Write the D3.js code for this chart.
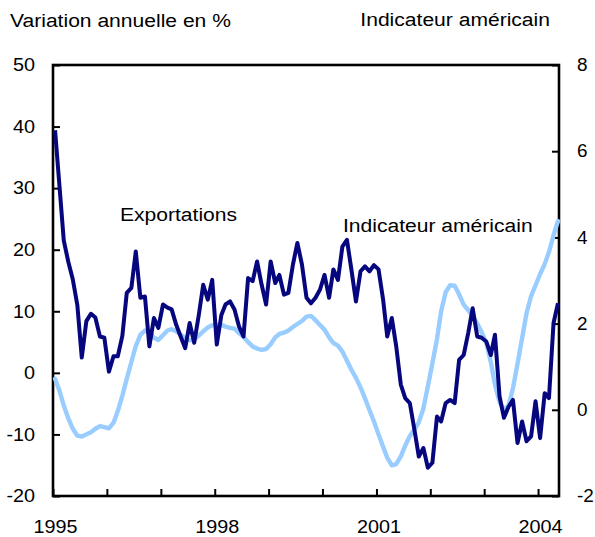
<!DOCTYPE html>
<html lang="fr">
  <head>
    <meta charset="UTF-8" />
    <title>Exportations et indicateur américain</title>
    <style>
      body { margin: 0; background: #fff; }
      text { font-family: "Liberation Sans", Arial, sans-serif; font-size: 18px; fill: #000; }
    </style>
  </head>
  <body>
    <svg id="svg" width="595" height="537"></svg>

    <script src="https://cdn.jsdelivr.net/npm/d3@7"></script>
    <script>
      const WIDTH = 595;
      const HEIGHT = 537;
      const LEFT = 53;
      const RIGHT = 559;
      const TOP = 65;
      const BOTTOM = 496;

      // monthly values, Jan 1995 -> May 2004
      const START_YEAR = 1995;
      const exportations = [
        39.4, 30, 21.5, 18, 15.2, 11, 2.5, 8.4, 9.6, 9.0,
        5.9, 5.7, 0.2, 2.7, 2.7, 6, 13, 13.8, 19.7, 12.2,
        12.4, 4.3, 8.9, 7.3, 11.1, 10.6, 10.3, 7.8, 5.9, 4.0,
        8.1, 4.9, 9.4, 14.3, 11.9, 15.1, 4.6, 9.4, 11.1, 11.6,
        10.3, 7.5, 5.9, 15.4, 14.9, 18.1, 14.3, 11.1, 18.1, 14.6,
        15.9, 12.7, 13.0, 17.6, 21.1, 17.6, 12.2, 11.3, 12.2, 13.5,
        15.9, 12.2, 16.8, 15.1, 20.5, 21.6, 16.8, 11.6, 16.5, 17.3,
        16.5, 17.5, 16.8, 11.9, 5.9, 8.9, 4.3, -1.9, -4.1, -4.9,
        -9.2, -13.6, -12.2, -15.4, -14.6, -7.1, -7.9, -4.9, -4.4, -4.9,
        2.1, 2.9, 6.5, 10.5, 5.9, 5.7, 5.1, 2.9, 6.2, -3.8,
        -7.3, -5.5, -4.4, -11.4, -7.9, -11.1, -10.3, -4.6, -10.6, -3.3,
        -4.1, 8.1, 11.3,
      ];
      const indicateurUS = [
        0.72, 0.43, 0.1, -0.2, -0.44, -0.6, -0.62, -0.57, -0.52, -0.44,
        -0.38, -0.4, -0.43, -0.3, -0.03, 0.33, 0.72, 1.11, 1.48, 1.74,
        1.84, 1.8, 1.67, 1.62, 1.73, 1.84, 1.87, 1.82, 1.74, 1.67,
        1.61, 1.63, 1.72, 1.82, 1.91, 1.96, 1.97, 1.97, 1.93, 1.9,
        1.88, 1.78, 1.69, 1.57, 1.47, 1.42, 1.39, 1.41, 1.52, 1.68,
        1.76, 1.79, 1.84, 1.92, 1.99, 2.06, 2.16, 2.18, 2.08, 1.97,
        1.86, 1.68, 1.55, 1.49, 1.35, 1.14, 0.93, 0.74, 0.52, 0.27,
        -0.01, -0.27, -0.57, -0.86, -1.11, -1.29, -1.26, -1.08, -0.83, -0.61,
        -0.46, -0.29, 0.03, 0.54, 1.08, 1.64, 2.28, 2.73, 2.89, 2.88,
        2.68, 2.44, 2.31, 2.18, 2.0, 1.8, 1.55, 1.11, 0.58, 0.18,
        0.0, 0.1, 0.5, 1.07, 1.66, 2.24, 2.64, 2.89, 3.15, 3.38,
        3.66, 4.05, 4.38,
      ];
      const yearTicks = [1995, 1996, 1997, 1998, 1999, 2000, 2001, 2002, 2003, 2004];
      const yearLabels = [1995, 1998, 2001, 2004];
      const leftTicks = [-20, -10, 0, 10, 20, 30, 40, 50];
      const rightTicks = [-2, 0, 2, 4, 6, 8];

      const monthDate = (i) => new Date(START_YEAR, i, 15);

      const x = d3
        .scaleTime()
        .domain([new Date(1995, 0, 1), new Date(2004, 4, 22)])
        .range([LEFT, RIGHT]);
      const yLeft = d3.scaleLinear().domain([-20, 50]).range([BOTTOM, TOP]);
      const yRight = d3.scaleLinear().domain([-2, 8]).range([BOTTOM, TOP]);

      const svg = d3.select("#svg");

      // axes, ticks pointing inward; plain hyphen for negatives like the original
      const plain = (d) => String(d);
      const leftAxis = d3.axisLeft(yLeft).tickValues(leftTicks).tickFormat(plain)
        .tickSizeInner(-7).tickSizeOuter(0).tickPadding(18);
      const rightAxis = d3.axisRight(yRight).tickValues(rightTicks).tickFormat(plain)
        .tickSizeInner(-7).tickSizeOuter(0).tickPadding(18);
      const bottomAxis = d3
        .axisBottom(x)
        .tickValues(yearTicks.map((y) => new Date(y, 0, 1)))
        .tickFormat((d) => (yearLabels.includes(d.getFullYear()) ? d.getFullYear() : ""))
        .tickSizeInner(-7)
        .tickSizeOuter(0)
        .tickPadding(24);

      const gLeft = svg.append("g").attr("transform", `translate(${LEFT},0)`).call(leftAxis);
      const gRight = svg.append("g").attr("transform", `translate(${RIGHT},0)`).call(rightAxis);
      const gBottom = svg.append("g").attr("transform", `translate(0,${BOTTOM})`).call(bottomAxis);

      svg.selectAll(".domain").remove();
      svg.selectAll(".tick line").attr("stroke", "#000").attr("stroke-width", 2);
      svg.selectAll(".tick text").attr("font-family", null).attr("font-size", null);
      gBottom.selectAll(".tick text").attr("dx", 2);

      // frame
      svg
        .append("rect")
        .attr("x", LEFT)
        .attr("y", TOP)
        .attr("width", RIGHT - LEFT)
        .attr("height", BOTTOM - TOP)
        .attr("fill", "none")
        .attr("stroke", "#000")
        .attr("stroke-width", 2.6);

      // series
      const lineUS = d3
        .line()
        .x((d, i) => x(monthDate(i)))
        .y((d) => yRight(d));
      const lineExp = d3
        .line()
        .x((d, i) => x(monthDate(i)))
        .y((d) => yLeft(d));

      svg
        .append("path")
        .attr("d", lineUS(indicateurUS))
        .attr("fill", "none")
        .attr("stroke", "#99ccff")
        .attr("stroke-width", 4.4)
        .attr("stroke-linejoin", "round")
        .attr("stroke-linecap", "round");

      svg
        .append("path")
        .attr("d", lineExp(exportations))
        .attr("fill", "none")
        .attr("stroke", "#06067e")
        .attr("stroke-width", 4)
        .attr("stroke-linejoin", "round");

      // labels
      const labels = svg.append("g");
      labels.append("text").attr("x", 10).attr("y", 27).text("Variation annuelle en %");
      labels.append("text").attr("x", 550).attr("y", 26).attr("text-anchor", "end").text("Indicateur américain");
      labels.append("text").attr("x", 120).attr("y", 221).text("Exportations");
      labels.append("text").attr("x", 343).attr("y", 232).text("Indicateur américain");

      // the original type is set a little wider than Liberation Sans
      function widen(sel, k) {
        sel.each(function () {
          const len = this.getComputedTextLength();
          if (len > 0) {
            d3.select(this).attr("textLength", len * k).attr("lengthAdjust", "spacingAndGlyphs");
          }
        });
      }
      widen(labels.selectAll("text"), 1.17);
      widen(gLeft.selectAll("text"), 1.1);
      widen(gBottom.selectAll("text"), 1.1);
      widen(gRight.selectAll("text"), 1.05);
    </script>
  </body>
</html>
